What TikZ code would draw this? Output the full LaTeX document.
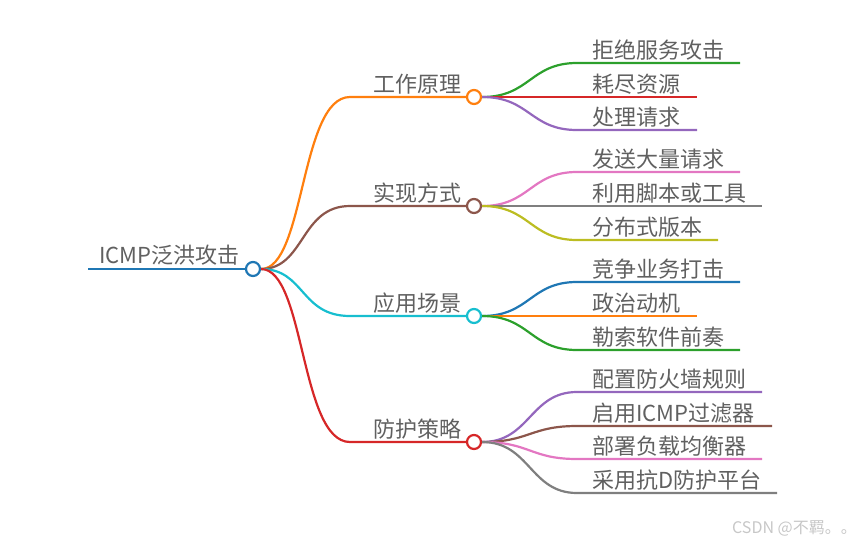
\documentclass[tikz,border=0pt]{standalone}
\usepackage{fontspec}
\setmainfont{Noto Sans CJK SC}
\definecolor{cblue}{HTML}{1F77B4}
\definecolor{corange}{HTML}{FF7F0E}
\definecolor{cgreen}{HTML}{2CA02C}
\definecolor{cred}{HTML}{D62728}
\definecolor{cpurple}{HTML}{9467BD}
\definecolor{cbrown}{HTML}{8C564B}
\definecolor{cpink}{HTML}{E377C2}
\definecolor{cgray}{HTML}{7F7F7F}
\definecolor{colive}{HTML}{BCBD22}
\definecolor{ccyan}{HTML}{17BECF}
\definecolor{txt}{HTML}{606060}
\begin{document}
\begin{tikzpicture}[x=1pt,y=-1pt,
  dot/.style={circle,draw=#1,fill=white,line width=2.2pt,minimum size=14pt,inner sep=0pt},
  edge/.style={draw=#1,line width=2.2pt},
  lbl/.style={anchor=base west,inner sep=0pt,text=txt,font=\fontsize{22}{24}\selectfont},
  lblr/.style={anchor=base east,inner sep=0pt,text=txt,font=\fontsize{22}{24}\selectfont}]
\useasboundingbox (0,0) rectangle (865,544);
% root
\node[dot=cblue] (root) at (253,269) {};
\coordinate (rs) at (88,269);
\draw[edge=cblue,line width=2.8pt] (rs) -- (root.west);
\node[lbl] (rt) at (99,263) {ICMP泛洪攻击};
% branches
\node[dot=corange] (b1) at (474,97) {};
\node[dot=cbrown] (b2) at (474,206) {};
\node[dot=ccyan] (b3) at (474,316) {};
\node[dot=cred] (b4) at (474,442) {};
\coordinate (b1s) at (350,97);
\coordinate (b2s) at (350,206);
\coordinate (b3s) at (350,316);
\coordinate (b4s) at (350,442);
\draw[edge=corange] (root.east) .. controls (305,269) and (300,97) .. (b1s) -- (b1.west);
\draw[edge=cbrown] (root.east) .. controls (305,269) and (300,206) .. (b2s) -- (b2.west);
\draw[edge=ccyan] (root.east) .. controls (305,269) and (300,316) .. (b3s) -- (b3.west);
\draw[edge=cred] (root.east) .. controls (305,269) and (300,442) .. (b4s) -- (b4.west);
\node[lblr] (t1) at (462,92) {工作原理};
\node[lblr] (t2) at (462,201) {实现方式};
\node[lblr] (t3) at (462,311) {应用场景};
\node[lblr] (t4) at (462,437) {防护策略};
% leaves helper
\newcommand{\leaf}[6]{% parent, y, end x, color, name, text
  \coordinate (#5s) at (577,#2);
  \coordinate (#5e) at (#3,#2);
  \draw[edge=#4] (#1.east) .. controls (530,\parenty) and (530,#2) .. (#5s) -- (#5e);
  \node[lbl] (#5) at (592,#2-5) {#6};
}
\def\parenty{97}
\leaf{b1}{63}{740}{cgreen}{l11}{拒绝服务攻击}
\leaf{b1}{97}{697}{cred}{l12}{耗尽资源}
\leaf{b1}{130}{697}{cpurple}{l13}{处理请求}
\def\parenty{206}
\leaf{b2}{172}{740}{cpink}{l21}{发送大量请求}
\leaf{b2}{206}{762}{cgray}{l22}{利用脚本或工具}
\leaf{b2}{240}{718}{colive}{l23}{分布式版本}
\def\parenty{316}
\leaf{b3}{282}{740}{cblue}{l31}{竞争业务打击}
\leaf{b3}{316}{697}{corange}{l32}{政治动机}
\leaf{b3}{350}{740}{cgreen}{l33}{勒索软件前奏}
\def\parenty{442}
\leaf{b4}{392}{762}{cpurple}{l41}{配置防火墙规则}
\leaf{b4}{426}{772}{cbrown}{l42}{启用ICMP过滤器}
\leaf{b4}{459}{762}{cpink}{l43}{部署负载均衡器}
\leaf{b4}{493}{777}{cgray}{l44}{采用抗D防护平台}
% watermark
\node[anchor=base east,inner sep=0pt,text=black!22,font=\fontsize{16}{18}\selectfont] (wm) at (857,533) {CSDN @不羁。。};
\end{tikzpicture}
\end{document}
